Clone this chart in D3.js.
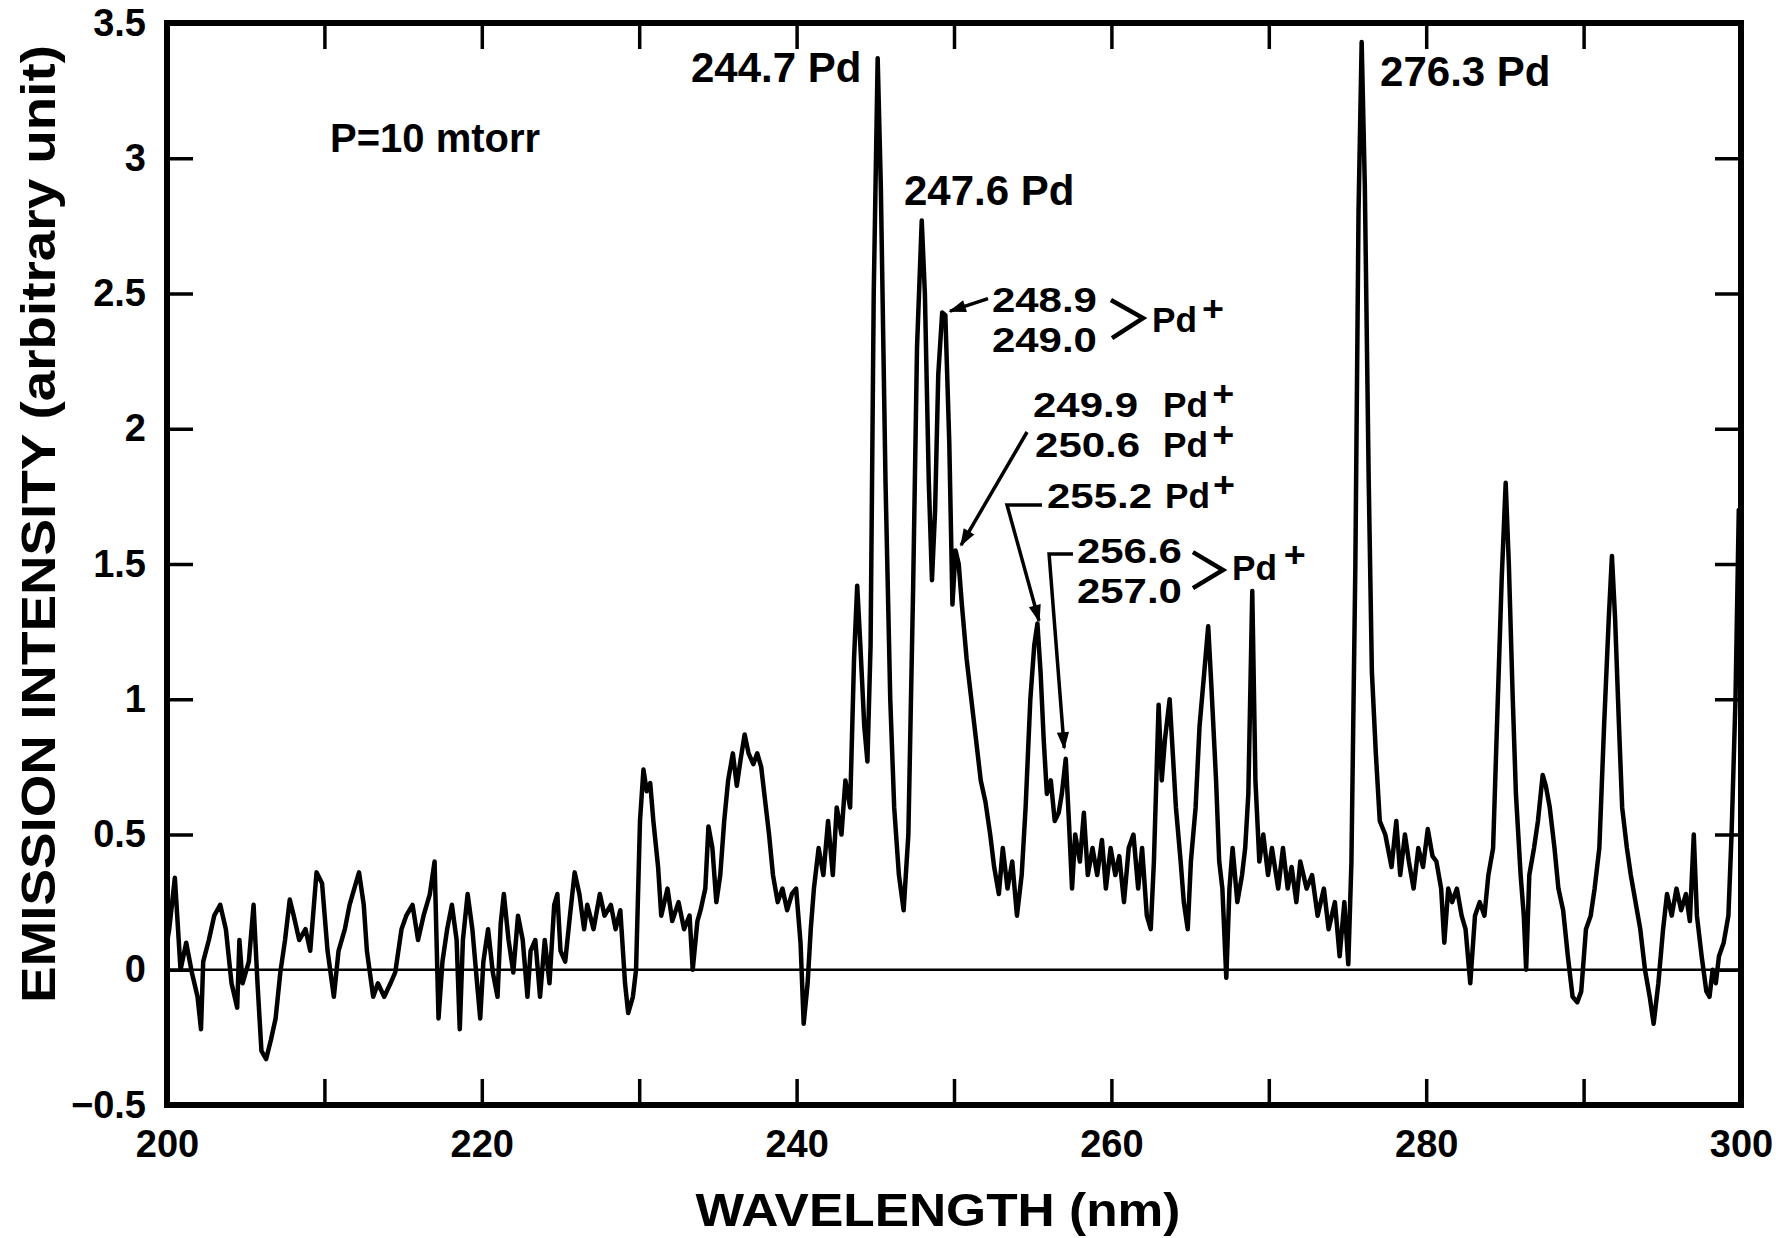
<!DOCTYPE html>
<html><head><meta charset="utf-8">
<script src="https://cdn.jsdelivr.net/npm/d3@7"></script>
<style>
html,body{margin:0;padding:0;background:#fff;}
svg{display:block;}
text{font-family:"Liberation Sans",Arial,Helvetica,sans-serif;font-weight:bold;fill:#000;}
</style></head><body>
<svg id="chart" width="1776" height="1238"></svg>
<script>
// ---- data ----
const wavelength = [
200.0,200.14,200.5,200.86,201.22,201.58,201.94,202.16,202.3,202.66,203.0,203.38,203.74,204.1,204.46,204.6,204.8,205.2,205.5,205.75,
206.0,206.3,206.6,206.9,207.2,207.5,207.8,208.05,208.4,208.8,209.1,209.5,209.85,210.2,210.6,210.9,211.3,211.6,212.0,212.2,
212.5,212.7,213.1,213.4,213.8,214.2,214.5,214.9,215.2,215.6,215.95,216.3,216.7,217.0,217.25,217.5,217.8,218.1,218.4,218.6,
218.8,219.1,219.4,219.7,219.9,220.1,220.4,220.7,221.0,221.2,221.4,221.7,222.0,222.3,222.6,222.9,223.1,223.4,223.7,224.0,
224.3,224.6,224.8,225.0,225.3,225.6,225.9,226.2,226.5,226.7,227.1,227.5,227.8,228.2,228.5,228.8,229.1,229.3,229.6,229.8,
230.05,230.27,230.48,230.7,230.9,231.2,231.4,231.8,232.1,232.5,232.85,233.2,233.4,233.7,233.9,234.2,234.4,234.65,234.9,235.15,
235.4,235.65,235.95,236.2,236.45,236.7,236.95,237.25,237.5,237.75,237.95,238.25,238.5,238.8,239.1,239.4,239.7,239.97,240.25,240.45,
240.7,240.9,241.1,241.4,241.7,242.0,242.3,242.55,242.85,243.1,243.4,243.65,243.85,244.05,244.3,244.5,244.7,244.9,245.15,245.35,
245.65,245.95,246.2,246.5,246.8,247.1,247.4,247.65,247.95,248.15,248.4,248.6,248.8,249.0,249.25,249.45,249.7,249.9,250.1,250.3,
250.5,250.8,251.1,251.4,251.7,252.0,252.3,252.55,252.85,253.1,253.4,253.7,254.0,254.3,254.55,254.85,255.1,255.3,255.5,255.7,
255.9,256.15,256.4,256.65,256.85,257.1,257.3,257.5,257.7,258.0,258.25,258.5,258.8,259.1,259.4,259.65,259.95,260.25,260.5,260.8,
261.1,261.4,261.7,261.95,262.25,262.5,262.7,263.0,263.2,263.4,263.7,263.9,264.1,264.4,264.6,264.85,265.05,265.35,265.6,265.9,
266.15,266.35,266.65,266.85,267.05,267.3,267.5,267.7,268.0,268.3,268.5,268.7,268.95,269.15,269.4,269.65,269.95,270.2,270.6,270.9,
271.2,271.45,271.75,272.0,272.4,272.75,273.1,273.5,273.8,274.2,274.5,274.8,275.05,275.25,275.5,275.7,275.9,276.1,276.35,276.55,
276.8,277.05,277.4,277.8,278.1,278.35,278.65,278.9,279.2,279.5,279.8,280.1,280.4,280.65,280.95,281.15,281.4,281.65,281.95,282.25,
282.5,282.8,283.1,283.4,283.7,283.95,284.25,284.55,284.8,285.05,285.25,285.5,285.7,286.0,286.2,286.35,286.55,286.85,287.1,287.4,
287.6,287.85,288.15,288.4,288.7,289.0,289.3,289.6,289.85,290.15,290.45,290.7,291.0,291.3,291.6,291.8,292.0,292.25,292.45,292.75,
293.0,293.3,293.6,293.9,294.2,294.45,294.75,295.05,295.3,295.6,295.9,296.2,296.5,296.75,297.0,297.2,297.5,297.8,298.0,298.2,
298.4,298.6,298.9,299.2,299.4,299.65,299.86,300.0
];
const intensity = [
0.10,0.15,0.34,0.00,0.10,-0.01,-0.10,-0.22,0.03,0.11,0.20,0.24,0.15,-0.05,-0.14,0.11,-0.05,0.03,0.24,-0.05,
-0.30,-0.33,-0.26,-0.18,-0.01,0.11,0.26,0.20,0.11,0.15,0.07,0.36,0.32,0.07,-0.10,0.07,0.15,0.24,0.32,0.36,
0.24,0.07,-0.10,-0.05,-0.10,-0.05,-0.01,0.15,0.20,0.24,0.11,0.20,0.28,0.40,-0.18,0.03,0.15,0.24,0.11,-0.22,
0.11,0.28,0.15,-0.05,-0.18,0.03,0.15,-0.01,-0.10,0.17,0.28,0.11,-0.01,0.20,0.11,-0.10,0.07,0.11,-0.10,0.11,
-0.05,0.24,0.28,0.07,0.03,0.20,0.36,0.28,0.15,0.24,0.15,0.28,0.20,0.24,0.15,0.22,-0.05,-0.16,-0.10,0.00,
0.55,0.74,0.66,0.69,0.55,0.38,0.20,0.30,0.18,0.25,0.15,0.20,0.00,0.18,0.22,0.30,0.53,0.45,0.25,0.35,
0.55,0.70,0.80,0.68,0.78,0.87,0.80,0.76,0.80,0.75,0.65,0.50,0.35,0.25,0.30,0.22,0.28,0.30,0.10,-0.20,
-0.05,0.15,0.30,0.45,0.35,0.55,0.35,0.60,0.50,0.70,0.60,1.15,1.42,1.20,0.90,0.77,1.20,2.50,3.37,2.90,
1.80,1.00,0.60,0.35,0.22,0.50,1.40,2.30,2.77,2.50,1.80,1.44,1.70,2.20,2.43,2.42,1.95,1.35,1.55,1.50,
1.35,1.15,1.00,0.85,0.70,0.62,0.50,0.38,0.28,0.45,0.30,0.40,0.20,0.35,0.60,1.00,1.20,1.28,1.10,0.85,
0.65,0.70,0.55,0.58,0.65,0.78,0.55,0.30,0.50,0.40,0.58,0.35,0.45,0.35,0.48,0.30,0.45,0.35,0.42,0.25,
0.45,0.50,0.30,0.45,0.20,0.15,0.40,0.98,0.70,0.85,1.00,0.80,0.60,0.40,0.25,0.15,0.40,0.60,0.90,1.10,
1.27,1.05,0.70,0.40,0.30,-0.03,0.30,0.45,0.25,0.35,0.45,0.65,1.40,0.70,0.40,0.50,0.35,0.45,0.30,0.45,
0.30,0.38,0.25,0.40,0.30,0.35,0.20,0.30,0.15,0.25,0.05,0.25,0.02,0.40,1.50,2.80,3.43,2.90,1.80,1.10,
0.80,0.55,0.50,0.38,0.55,0.35,0.50,0.40,0.30,0.45,0.38,0.52,0.42,0.40,0.30,0.10,0.30,0.25,0.30,0.20,
0.15,-0.05,0.20,0.25,0.20,0.35,0.45,1.00,1.45,1.80,1.50,1.00,0.65,0.35,0.20,0.00,0.35,0.45,0.55,0.72,
0.68,0.60,0.45,0.30,0.22,0.05,-0.10,-0.12,-0.08,0.15,0.20,0.30,0.45,0.90,1.30,1.53,1.30,0.90,0.60,0.45,
0.35,0.25,0.15,0.00,-0.10,-0.20,-0.05,0.15,0.28,0.20,0.30,0.22,0.28,0.18,0.50,0.20,0.05,-0.08,-0.10,0.00,
-0.05,0.05,0.10,0.20,0.50,1.00,1.70,1.70
];
const xLabelTicks = [200, 220, 240, 260, 280, 300];
const xMinorTicks = [210, 220, 230, 240, 250, 260, 270, 280, 290];
const yTicks = [-0.5, 0, 0.5, 1, 1.5, 2, 2.5, 3, 3.5];
const yLabels = ["\u22120.5", "0", "0.5", "1", "1.5", "2", "2.5", "3", "3.5"];
const xTitle = "WAVELENGTH (nm)";
const yTitle = "EMISSION INTENSITY (arbitrary unit)";

// simple peak labels: [text, wavelength, intensity] (text baseline-left position in data units)
const peakLabels = [
  ["244.7 Pd", 233.29, 3.282],
  ["247.6 Pd", 246.82, 2.827],
  ["276.3 Pd", 277.07, 3.267]
];
const conditionLabel = ["P=10 mtorr", 210.36, 3.023];

// ---- drawing ----
const svg = d3.select("#chart");
const L = 167, R = 1741, T = 23, B = 1105;
const x = d3.scaleLinear().domain([200, 300]).range([L, R]);
const y = d3.scaleLinear().domain([-0.5, 3.5]).range([B, T]);

// zero line
svg.append("line").attr("x1", x(200)).attr("x2", x(300)).attr("y1", y(0)).attr("y2", y(0))
  .attr("stroke", "#000").attr("stroke-width", 2.5);

// spectrum
const pts = wavelength.map((w, i) => [w, intensity[i]]);
svg.append("path").datum(pts)
  .attr("fill", "none").attr("stroke", "#000").attr("stroke-width", 4.5)
  .attr("stroke-linejoin", "round").attr("stroke-linecap", "round")
  .attr("d", d3.line().x(d => x(d[0])).y(d => y(d[1])));

// ticks (inward)
const tickStyle = g => { g.select(".domain").remove(); g.selectAll(".tick line").attr("stroke", "#000").attr("stroke-width", 3.5); };
svg.append("g").attr("transform", `translate(0,${B})`)
  .call(d3.axisBottom(x).tickValues(xMinorTicks).tickSize(-26).tickFormat(""))
  .call(tickStyle);
svg.append("g").attr("transform", `translate(0,${T})`)
  .call(d3.axisTop(x).tickValues(xMinorTicks).tickSize(-26).tickFormat(""))
  .call(tickStyle);
svg.append("g").attr("transform", `translate(${L},0)`)
  .call(d3.axisLeft(y).tickValues(yTicks.slice(1, -1)).tickSize(-26).tickFormat(""))
  .call(tickStyle);
svg.append("g").attr("transform", `translate(${R},0)`)
  .call(d3.axisRight(y).tickValues(yTicks.slice(1, -1)).tickSize(-26).tickFormat(""))
  .call(tickStyle);

// tick labels
const xl = svg.append("g").attr("transform", `translate(0,${B})`)
  .call(d3.axisBottom(x).tickValues(xLabelTicks).tickSize(0).tickPadding(25).tickFormat(d3.format("d")));
xl.select(".domain").remove();
xl.selectAll("text").attr("font-size", 38).attr("font-family", null).attr("fill", "#000");
const yl = svg.append("g").attr("transform", `translate(${L},0)`)
  .call(d3.axisLeft(y).tickValues(yTicks).tickSize(0).tickPadding(21).tickFormat((d, i) => yLabels[i]));
yl.select(".domain").remove();
yl.selectAll("text").attr("font-size", 38).attr("font-family", null).attr("fill", "#000");

// frame
svg.append("rect").attr("x", L).attr("y", T).attr("width", R - L).attr("height", B - T)
  .attr("fill", "none").attr("stroke", "#000").attr("stroke-width", 6);

// titles
svg.append("text").attr("x", 938).attr("y", 1226).attr("text-anchor", "middle")
  .attr("font-size", 47).attr("textLength", 485).attr("lengthAdjust", "spacingAndGlyphs").text(xTitle);
svg.append("text").attr("transform", "translate(55,524) rotate(-90)").attr("text-anchor", "middle")
  .attr("font-size", 49).attr("textLength", 958).attr("lengthAdjust", "spacingAndGlyphs").text(yTitle);

// annotations
const ann = svg.append("g");
ann.append("text").attr("x", x(conditionLabel[1])).attr("y", y(conditionLabel[2])).attr("font-size", 40).text(conditionLabel[0]);
peakLabels.forEach(([t, w, v]) => {
  ann.append("text").attr("x", x(w)).attr("y", y(v)).attr("font-size", 42).text(t);
});
// one <text> per annotation block; spans: [kind, text, wavelength, intensity]
const block = spans => {
  const t = ann.append("text").attr("font-size", 35);
  spans.forEach(([kind, s, w, v]) => {
    const ts = t.append("tspan").attr("x", x(w)).attr("y", y(v)).text(s);
    if (kind === "n") ts.attr("textLength", 105).attr("lengthAdjust", "spacingAndGlyphs");
    if (kind === "pd") ts.attr("textLength", 45).attr("lengthAdjust", "spacingAndGlyphs");
    if (kind === "plus") ts.attr("text-anchor", "middle").attr("dy", "0.36em")
      .attr("textLength", 22).attr("lengthAdjust", "spacingAndGlyphs");
  });
};
const poly = (p, arrow) => {
  const path = ann.append("path").attr("d", d3.line().x(d => x(d[0])).y(d => y(d[1]))(p))
    .attr("fill", "none").attr("stroke", "#000").attr("stroke-width", arrow ? 3.5 : 4.5)
    .attr("stroke-linejoin", "miter");
  if (arrow) path.attr("marker-end", "url(#ah)");
};
svg.append("defs").append("marker").attr("id", "ah").attr("viewBox", "0 0 10 10")
  .attr("refX", 9).attr("refY", 5).attr("markerWidth", 7).attr("markerHeight", 5)
  .attr("markerUnits", "strokeWidth").attr("orient", "auto")
  .append("path").attr("d", "M0,1.5 L10,5 L0,8.5 Z").attr("fill", "#000");

// 248.9 / 249.0 > Pd+
block([["n", "248.9", 252.41, 2.432], ["n", "249.0", 252.41, 2.284],
       ["pd", "Pd", 262.58, 2.358], ["plus", "+", 266.45, 2.446]]);
poly([[259.97, 2.476], [262.01, 2.409], [260.04, 2.335]]);
poly([[252.16, 2.481], [249.75, 2.435]], true);
// 249.9 Pd+, 250.6 Pd+
block([["n", "249.9", 255.02, 2.043], ["pd", "Pd", 263.28, 2.043], ["plus", "+", 267.1, 2.132],
       ["n", "250.6", 255.15, 1.896], ["pd", "Pd", 263.28, 1.896], ["plus", "+", 267.1, 1.980]]);
poly([[254.64, 1.988], [250.45, 1.57]], true);
// 255.2 Pd+
block([["n", "255.2", 255.91, 1.707], ["pd", "Pd", 263.4, 1.707], ["plus", "+", 267.15, 1.796]]);
poly([[255.59, 1.718], [253.37, 1.718], [255.4, 1.29]], true);
// 256.6 / 257.0 > Pd+
block([["n", "256.6", 257.81, 1.504], ["n", "257.0", 257.81, 1.356],
       ["pd", "Pd", 267.66, 1.441], ["plus", "+", 271.65, 1.537]]);
poly([[265.18, 1.544], [267.09, 1.478], [265.18, 1.411]]);
poly([[257.56, 1.537], [256.04, 1.537], [257.0, 0.82]], true);
</script>
</body></html>
